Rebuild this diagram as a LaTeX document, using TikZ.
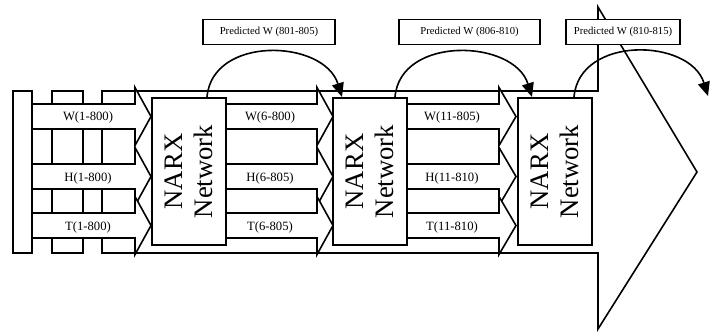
\documentclass[tikz,border=0pt]{standalone}
\usepackage{fontspec}
\setmainfont{Liberation Serif}
\usetikzlibrary{arrows.meta}
% block arrow: tail, head base, tip, centre line
\newcommand{\blockarr}[4]{%
  \filldraw[fill=white] ({#1},{#4-12.5}) -- ({#2},{#4-12.5}) -- ({#2},{#4-29})
    -- ({#3},{#4}) -- ({#2},{#4+29}) -- ({#2},{#4+12.5}) -- ({#1},{#4+12.5}) -- cycle;}

\begin{document}
\begin{tikzpicture}[
    x=1pt, y=-1pt,
    line width=1.6pt,
    narx/.style={rectangle, draw, fill=white, rotate=90, minimum width=147pt, minimum height=74pt, align=center, inner sep=0pt, font=\fontsize{26.7}{30}\selectfont},
    lbl/.style={inner sep=0pt, font=\fontsize{12.67}{14}\selectfont},
    pred/.style={rectangle, draw, fill=white, minimum height=25pt, inner sep=0pt, font=\fontsize{10.67}{12}\selectfont},
    arrow/.style={-{Triangle[length=14pt, width=12pt]}}
]
    \useasboundingbox (0,0) rectangle (721,332);

    % big arrow behind everything
    \filldraw[fill=white] (102,91) -- (598,91) -- (598,7) -- (697,172) -- (598,329) -- (598,253) -- (102,253) -- cycle;
    \draw (13,91) rectangle (32,253);
    \draw (52,91) rectangle (83,253);

    % input arrows
    \foreach \c in {116.5,176.5,225.5} {
      \blockarr{32}{135}{151}{\c}
      \blockarr{226}{317}{333}{\c}
      \blockarr{407}{499}{516}{\c}
    }

    \node[lbl] (w1) at (88,117) {W(1-800)};
    \node[lbl] (h1) at (88,178) {H(1-800)};
    \node[lbl] (t1) at (88,227) {T(1-800)};
    \node[lbl] (w2) at (270,117) {W(6-800)};
    \node[lbl] (h2) at (270,178) {H(6-805)};
    \node[lbl] (t2) at (270,227) {T(6-805)};
    \node[lbl] (w3) at (452,117) {W(11-805)};
    \node[lbl] (h3) at (452,178) {H(11-810)};
    \node[lbl] (t3) at (452,227) {T(11-810)};

    % networks
    \node[narx] (net1) at (189,171.5) {NARX\\Network};
    \node[narx] (net2) at (370,171.5) {NARX\\Network};
    \node[narx] (net3) at (555,171.5) {NARX\\Network};

    % predictions
    \node[pred, minimum width=132pt] (p1) at (269,32) {Predicted W (801-805)};
    \node[pred, minimum width=141pt] (p2) at (469.5,32) {Predicted W (806-810)};
    \node[pred, minimum width=114pt] (p3) at (623,32) {Predicted W (810-815)};

    \coordinate (e1) at (342,97);
    \coordinate (e2) at (532,97);
    \coordinate (e3) at (708,96);

    \draw[arrow] ([xshift=18pt]net1.east) .. controls +(5,-62) and +(-18,-58) .. (e1);
    \draw[arrow] ([xshift=25pt]net2.east) .. controls +(5,-62) and +(-18,-58) .. (e2);
    \draw[arrow] ([xshift=19pt]net3.east) .. controls +(5,-62) and +(-18,-58) .. (e3);
\end{tikzpicture}
\end{document}
